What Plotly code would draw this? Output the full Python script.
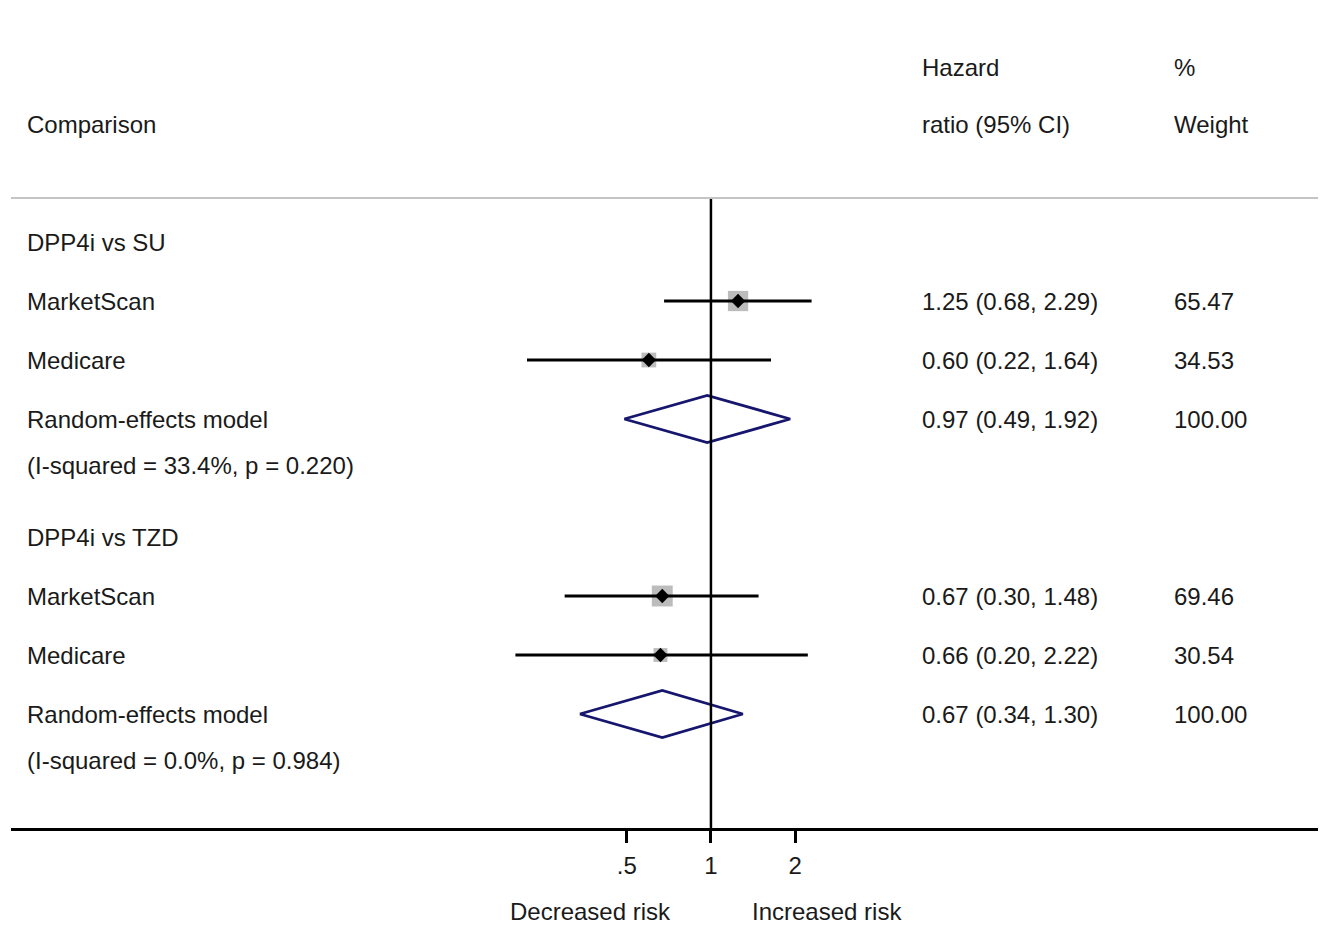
import plotly.graph_objects as go

# ---- data -------------------------------------------------------------
groups = ["DPP4i vs SU", "DPP4i vs TZD"]
studies = ["MarketScan", "Medicare"]
study_hr = [[1.25, 0.60], [0.67, 0.66]]
study_lo = [[0.68, 0.22], [0.30, 0.20]]
study_hi = [[2.29, 1.64], [1.48, 2.22]]
study_weight = [[65.47, 34.53], [69.46, 30.54]]
pooled_hr = [0.97, 0.67]
pooled_lo = [0.49, 0.34]
pooled_hi = [1.92, 1.30]
i_squared = ["33.4%", "0.0%"]
het_p = ["0.220", "0.984"]
tick_vals = [0.5, 1, 2]
tick_text = [".5", "1", "2"]

# ---- layout constants ---------------------------------------------------
W, H = 1325, 929
ML, MR, MT, MB = 11, 7, 198, 101
PLOT_W = W - ML - MR
PLOT_H = H - MT - MB
FONT = "Liberation Sans, Arial, sans-serif"
TXT = "#1a1a1a"
NAVY = "#16166e"
BOX = "#bcbcbc"
FS = 24
COL_LABEL, COL_HR, COL_W = 25, 920, 1172


def px_x(px):
    return (px - ML) / PLOT_W


def px_y(py):
    return (H - MB - py) / PLOT_H


fig = go.Figure()
annotations = []


def text(x, y, s, yref="y", xanchor="left", size=FS):
    annotations.append(dict(x=x, y=y, xref="paper", yref=yref, text=s,
                            showarrow=False, xanchor=xanchor, yanchor="middle",
                            font=dict(family=FONT, size=size, color=TXT)))


# column headers
text(px_x(COL_LABEL), px_y(125), "Comparison", yref="paper")
text(px_x(COL_HR), px_y(67), "Hazard", yref="paper")
text(px_x(COL_HR), px_y(125), "ratio (95% CI)", yref="paper")
text(px_x(COL_W), px_y(67), "%", yref="paper")
text(px_x(COL_W), px_y(125), "Weight", yref="paper")

box_scale = 20.3 / (65.47 ** 0.5)
diamond_half = 0.40

for g, name in enumerate(groups):
    base = 1 + 5 * g
    text(px_x(COL_LABEL), base, name)
    for k, st in enumerate(studies):
        row = base + 1 + k
        hr, lo, hi, w = study_hr[g][k], study_lo[g][k], study_hi[g][k], study_weight[g][k]
        # weight box
        fig.add_trace(go.Scatter(x=[hr], y=[row], mode="markers",
                                 marker=dict(symbol="square", size=box_scale * w ** 0.5,
                                             color=BOX, line=dict(width=0)),
                                 hoverinfo="skip", showlegend=False))
        # confidence interval
        fig.add_trace(go.Scatter(x=[lo, hi], y=[row, row], mode="lines",
                                 line=dict(color="black", width=3),
                                 hoverinfo="skip", showlegend=False))
        # point estimate
        fig.add_trace(go.Scatter(x=[hr], y=[row], mode="markers",
                                 marker=dict(symbol="diamond", size=11, color="black",
                                             line=dict(width=0)),
                                 hoverinfo="skip", showlegend=False))
        text(px_x(COL_LABEL), row, st)
        text(px_x(COL_HR), row, f"{hr:.2f} ({lo:.2f}, {hi:.2f})")
        text(px_x(COL_W), row, f"{w:.2f}")

    # pooled estimate diamond
    row = base + 3
    ph, pl, pu = pooled_hr[g], pooled_lo[g], pooled_hi[g]
    fig.add_trace(go.Scatter(x=[pl, ph, pu, ph, pl],
                             y=[row, row - diamond_half, row, row + diamond_half, row],
                             mode="lines", line=dict(color=NAVY, width=2.8),
                             hoverinfo="skip", showlegend=False))
    text(px_x(COL_LABEL), row, "Random-effects model")
    text(px_x(COL_HR), row, f"{ph:.2f} ({pl:.2f}, {pu:.2f})")
    text(px_x(COL_W), row, "100.00")
    text(px_x(COL_LABEL), row + 0.78, f"(I-squared = {i_squared[g]}, p = {het_p[g]})")

# direction labels under the axis
text(px_x(590), px_y(911), "Decreased risk", yref="paper", xanchor="center")
text(px_x(827), px_y(911), "Increased risk", yref="paper", xanchor="center")

shapes = [
    # line of no effect
    dict(type="line", xref="x", yref="paper", x0=1, x1=1, y0=0, y1=1,
         line=dict(color="black", width=2.5)),
    # header separator
    dict(type="line", xref="paper", yref="paper", x0=0, x1=1, y0=1, y1=1,
         line=dict(color="#c4c4c4", width=2)),
]

fig.update_layout(
    width=W, height=H, autosize=False,
    margin=dict(l=ML, r=MR, t=MT, b=MB),
    paper_bgcolor="white", plot_bgcolor="white",
    showlegend=False,
    annotations=annotations,
    shapes=shapes,
    xaxis=dict(type="log", range=[-2.502, 2.170], showgrid=False, zeroline=False,
               showline=True, linecolor="black", linewidth=2.5,
               ticks="outside", ticklen=12, tickwidth=2.5, tickcolor="black",
               tickvals=tick_vals, ticktext=tick_text, ticklabelstandoff=2,
               tickfont=dict(family=FONT, size=24, color=TXT), fixedrange=True),
    yaxis=dict(range=[10.932, 0.254], visible=False, showgrid=False,
               zeroline=False, fixedrange=True),
)

fig.write_html("out.html")
